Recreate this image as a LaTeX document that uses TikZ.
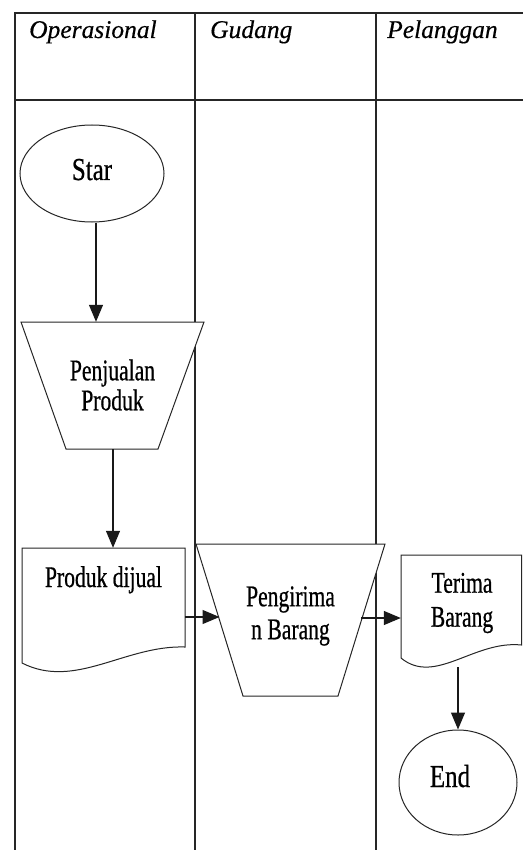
\documentclass[tikz,border=0pt]{standalone}
\usepackage{fontspec}
\setmainfont{Liberation Serif}
\newfontfamily\bodyfont[FakeStretch=0.72,FakeBold=0.6]{Liberation Serif}
\newfontfamily\termfont[FakeStretch=0.78,FakeBold=0.6]{Liberation Serif}
\newfontfamily\headfont[FakeBold=0.4]{Liberation Serif Italic}
\usetikzlibrary{shapes.geometric,arrows.meta}

\begin{document}
\begin{tikzpicture}[x=1pt,y=-1pt,
  lane/.style={line width=1.3pt, draw=black!85},
  shapeline/.style={draw=black!85, line width=1pt, fill=white},
  flow/.style={line width=1.2pt, draw=black!90, -{Triangle[length=17pt,width=14pt]}},
  terminal/.style={shapeline, ellipse, inner sep=0pt,
    font=\termfont\fontsize{32}{34}\selectfont},
  frame/.style={rectangle, draw=none, inner sep=0pt},
  boxtext/.style={inner sep=0pt, align=center, font=\bodyfont\fontsize{30}{33}\selectfont},
  head/.style={anchor=base west, inner sep=0pt, font=\headfont\fontsize{25.5}{27}\selectfont}
]
\useasboundingbox (0,0) rectangle (523,850);

% swimlane grid
\draw[lane] (15,850) -- (15,13) -- (523,13);
\draw[lane] (15,100) -- (523,100);
\draw[lane] (195,13) -- (195,850);
\draw[lane] (376,13) -- (376,850);

% lane headings
\node[head] (hop) at (29,38) {Operasional};
\node[head] (hgu) at (210,38) {Gudang};
\node[head] (hpl) at (387,38) {Pelanggan};

% Operasional lane
\node[terminal, minimum width=144pt, minimum height=97pt,
      text height=21pt, text depth=8pt] (st) at (92,173.5) {Star};

% manual operation: Penjualan Produk
\draw[shapeline] (21,322) -- (204,322) -- (158,449) -- (66,449) -- cycle;
\node[frame, minimum width=183pt, minimum height=127pt] (pj) at (113,385.5) {};
\node[boxtext] (pjt) at (112.5,385) {Penjualan\\[-3pt]Produk};

% document: Produk dijual
\draw[shapeline] (22,548) -- (185,548) -- (185,647)
  .. controls (125,645) and (75,690) .. (22,663) -- cycle;
\node[frame, minimum width=163pt, minimum height=124pt] (pd) at (103.5,610) {};
\node[boxtext, anchor=base] (pdt) at (103.5,587) {Produk dijual};

% Gudang lane: manual operation Pengiriman Barang
\draw[shapeline] (196,544) -- (385,544) -- (338,696) -- (243,696) -- cycle;
\node[frame, minimum width=189pt, minimum height=152pt] (pg) at (290.5,620) {};
\coordinate (pgin) at (219.5,617);
\coordinate (pgout) at (361,618);
\node[boxtext] (pgt) at (290.5,616) {Pengirima\\n Barang};

% Pelanggan lane
\draw[shapeline] (401,555) -- (521.5,555) -- (521.5,645)
  .. controls (474,640) and (435,686) .. (401,658) -- cycle;
\node[frame, minimum width=121pt, minimum height=112pt] (tb) at (461.5,611) {};
\node[boxtext, font=\bodyfont\fontsize{30}{34}\selectfont] (tbt) at (462,603) {Terima\\Barang};

\node[terminal, minimum width=118pt, minimum height=105pt,
      text height=21pt, text depth=12pt] (en) at (458,782.5) {End\kern16pt};

% flow connectors
\draw[flow] ([xshift=4pt]st.south) -- ([xshift=4pt]st.south |- pj.north);
\draw[flow] (pj.south) -- (pj.south |- pd.north);
\draw[flow] (pd.east |- pgin) -- (pgin);
\draw[flow] (pgout) -- (pgout -| tb.west);
\draw[flow] (en.north |- tb.south) -- (en.north);
\end{tikzpicture}
\end{document}
